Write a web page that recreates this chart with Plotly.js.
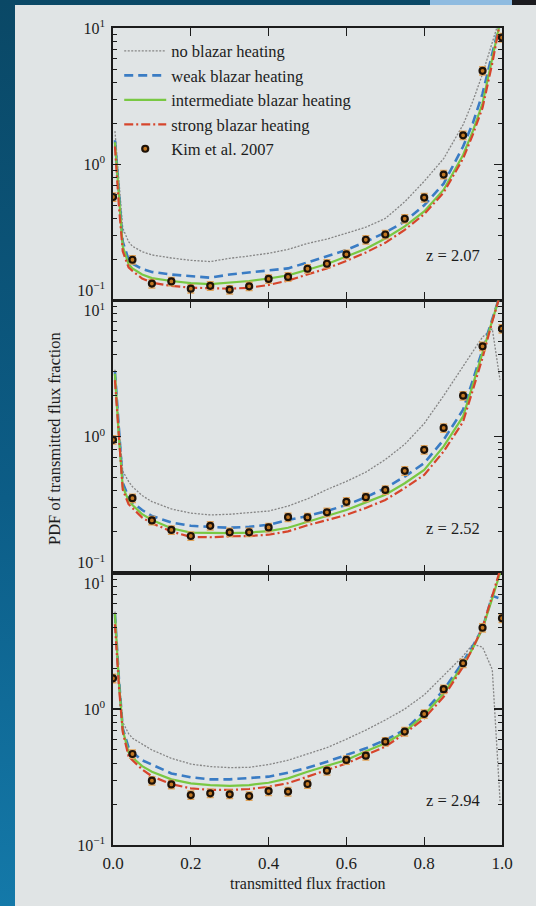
<!DOCTYPE html>
<html>
<head>
<meta charset="utf-8">
<script src="https://cdn.plot.ly/plotly-3.0.1.min.js"></script>
<style>
html,body{margin:0;padding:0;width:536px;height:906px;overflow:hidden;}
body{position:relative;background:linear-gradient(180deg,#0a4866 0%,#0c5d87 55%,#1479a9 100%);}
#strip1{position:absolute;left:430px;top:0;width:82px;height:5px;background:#8fbbe0;}
#strip2{position:absolute;left:512px;top:0;width:24px;height:5px;background:#1b1b1f;}
#chart{position:absolute;left:15px;top:5px;width:521px;height:901px;background:#e0e4e5;}
</style>
</head>
<body>
<div id="strip1"></div><div id="strip2"></div>
<div id="chart"></div>
<script>
// ---- data ----
const seriesNames = ["no blazar heating", "weak blazar heating", "intermediate blazar heating", "strong blazar heating", "Kim et al. 2007"];
const redshiftLabels = ["z = 2.07", "z = 2.52", "z = 2.94"];
const xLine = [0.005, 0.015, 0.025, 0.04, 0.05, 0.075, 0.1, 0.15, 0.2, 0.25, 0.3, 0.35, 0.4, 0.45, 0.5, 0.55, 0.6, 0.65, 0.7, 0.75, 0.8, 0.85, 0.9, 0.925, 0.95, 0.975, 0.995];
const xKim = [0, 0.05, 0.1, 0.15, 0.2, 0.25, 0.3, 0.35, 0.4, 0.45, 0.5, 0.55, 0.6, 0.65, 0.7, 0.75, 0.8, 0.85, 0.9, 0.95, 1.0];

// z = 2.07
const noHeat1 = [1.75, 0.75, 0.34, 0.27, 0.25, 0.228, 0.216, 0.205, 0.197, 0.193, 0.204, 0.212, 0.222, 0.237, 0.262, 0.282, 0.31, 0.345, 0.4, 0.53, 0.75, 1.1, 1.95, 2.9, 4.6, 8.0, 12];
const weak1 = [1.5, 0.6, 0.27, 0.2, 0.186, 0.17, 0.162, 0.155, 0.15, 0.147, 0.155, 0.16, 0.165, 0.172, 0.19, 0.21, 0.235, 0.27, 0.315, 0.38, 0.5, 0.72, 1.35, 2.0, 3.3, 6.5, 11];
const inter1 = [1.45, 0.55, 0.25, 0.185, 0.172, 0.155, 0.146, 0.139, 0.134, 0.132, 0.135, 0.139, 0.145, 0.153, 0.168, 0.185, 0.21, 0.24, 0.285, 0.35, 0.45, 0.65, 1.17, 1.75, 2.8, 5.8, 11];
const strong1 = [1.35, 0.5, 0.23, 0.175, 0.165, 0.145, 0.135, 0.128, 0.124, 0.123, 0.122, 0.124, 0.13, 0.14, 0.155, 0.172, 0.195, 0.225, 0.265, 0.33, 0.43, 0.62, 1.1, 1.65, 2.6, 5.5, 11];
const kim1 = [0.575, 0.199, 0.133, 0.138, 0.122, 0.128, 0.120, 0.127, 0.144, 0.149, 0.171, 0.186, 0.218, 0.279, 0.305, 0.398, 0.569, 0.84, 1.63, 4.85, 8.5];

// z = 2.52
const noHeat2 = [3.1, 1.2, 0.56, 0.47, 0.43, 0.37, 0.334, 0.295, 0.275, 0.267, 0.27, 0.276, 0.285, 0.31, 0.35, 0.41, 0.47, 0.55, 0.68, 0.88, 1.25, 2.0, 3.3, 4.3, 5.4, 6.2, 2.6];
const weak2 = [3.0, 1.1, 0.46, 0.36, 0.33, 0.29, 0.262, 0.235, 0.222, 0.218, 0.215, 0.218, 0.226, 0.245, 0.262, 0.285, 0.316, 0.36, 0.42, 0.51, 0.64, 0.95, 1.58, 2.6, 4.4, 7.5, 11];
const inter2 = [2.9, 1.0, 0.43, 0.34, 0.316, 0.27, 0.245, 0.213, 0.198, 0.196, 0.196, 0.198, 0.203, 0.215, 0.238, 0.262, 0.29, 0.33, 0.375, 0.456, 0.57, 0.85, 1.41, 2.4, 4.1, 7.2, 11];
const strong2 = [2.6, 0.95, 0.41, 0.32, 0.299, 0.255, 0.232, 0.202, 0.184, 0.183, 0.186, 0.187, 0.191, 0.202, 0.224, 0.245, 0.267, 0.3, 0.344, 0.42, 0.525, 0.78, 1.29, 2.2, 3.8, 7.0, 11];
const kim2 = [0.95, 0.354, 0.243, 0.207, 0.187, 0.222, 0.199, 0.199, 0.216, 0.257, 0.256, 0.279, 0.333, 0.360, 0.407, 0.562, 0.802, 1.16, 2.0, 4.61, 6.2];

// z = 2.94
const noHeat3 = [5.2, 1.8, 0.8, 0.66, 0.61, 0.55, 0.5, 0.434, 0.394, 0.377, 0.371, 0.372, 0.39, 0.42, 0.47, 0.52, 0.6, 0.7, 0.83, 1.0, 1.27, 1.75, 2.45, 3.0, 2.85, 1.95, 0.21];
const weak3 = [5.0, 1.7, 0.72, 0.52, 0.48, 0.42, 0.39, 0.336, 0.315, 0.304, 0.304, 0.31, 0.318, 0.34, 0.37, 0.41, 0.459, 0.514, 0.592, 0.701, 0.955, 1.38, 2.23, 2.9, 3.92, 6.8, 6.5];
const inter3 = [5.0, 1.6, 0.7, 0.48, 0.44, 0.38, 0.346, 0.304, 0.284, 0.276, 0.272, 0.276, 0.287, 0.309, 0.346, 0.38, 0.422, 0.49, 0.56, 0.68, 0.903, 1.30, 2.11, 2.8, 3.9, 6.5, 10];
const strong3 = [4.2, 1.5, 0.68, 0.45, 0.42, 0.36, 0.32, 0.28, 0.261, 0.254, 0.254, 0.258, 0.268, 0.285, 0.318, 0.355, 0.398, 0.46, 0.529, 0.66, 0.854, 1.23, 2.05, 2.8, 4.0, 6.8, 10.5];
const kim3 = [1.68, 0.467, 0.297, 0.279, 0.233, 0.240, 0.236, 0.229, 0.249, 0.247, 0.281, 0.352, 0.422, 0.454, 0.575, 0.682, 0.919, 1.40, 2.17, 3.96, 4.65];

const xTickVals = [0, 0.2, 0.4, 0.6, 0.8, 1.0];
const xTickText = ["0.0", "0.2", "0.4", "0.6", "0.8", "1.0"];
const yTickVals = [0.1, 1, 10];
const yTickTextTop = ["10<sup>−1</sup><br> ", "10<sup>0</sup>", "10<sup>1</sup>"];
const yTickTextMid = ["10<sup>−1</sup><br> ", "10<sup>0</sup>", " <br>10<sup>1</sup>"];
const yTickTextBot = ["10<sup>−1</sup>", "10<sup>0</sup>", " <br>10<sup>1</sup>"];

// ---- styling / build ----
const SERIF = "Liberation Serif, Times New Roman, serif";
const ink = "#1c1c1c";
const panels = [
  {ax: "", lines: [noHeat1, weak1, inter1, strong1], kim: kim1, label: redshiftLabels[0], dom: [0.6665, 1], tt: yTickTextTop, legend: true},
  {ax: "2", lines: [noHeat2, weak2, inter2, strong2], kim: kim2, label: redshiftLabels[1], dom: [0.3329, 0.6665], tt: yTickTextMid, legend: false},
  {ax: "3", lines: [noHeat3, weak3, inter3, strong3], kim: kim3, label: redshiftLabels[2], dom: [0, 0.3329], tt: yTickTextBot, legend: false}
];
const lineStyles = [
  {color: "#858585", width: 1.3, dash: "2px,1.5px"},
  {color: "#3a7cc4", width: 2.6, dash: "9px,5px"},
  {color: "#79c843", width: 2.2, dash: "solid"},
  {color: "#d6452c", width: 2.2, dash: "9px,3px,2px,3px"}
];

const traces = [];
const annotations = [];
const layout = {
  width: 521, height: 901,
  margin: {l: 98, r: 34, t: 23, b: 61},
  paper_bgcolor: "#e0e4e5", plot_bgcolor: "#e0e4e5",
  font: {family: SERIF, size: 16, color: ink},
  showlegend: true,
  legend: {x: 0.016, y: 0.993, xanchor: "left", yanchor: "top", bgcolor: "rgba(0,0,0,0)",
           font: {family: SERIF, size: 16.5, color: ink}, tracegroupgap: 0, itemwidth: 42},
  annotations: annotations
};

panels.forEach((p, i) => {
  const xa = "x" + p.ax, ya = "y" + p.ax;
  p.lines.forEach((ys, k) => {
    traces.push({
      type: "scatter", mode: "lines", x: xLine, y: ys, xaxis: xa, yaxis: ya,
      name: seriesNames[k], legendgroup: "g" + k, showlegend: p.legend,
      line: {color: lineStyles[k].color, width: lineStyles[k].width, dash: lineStyles[k].dash},
      hoverinfo: "skip"
    });
  });
  traces.push({
    type: "scatter", mode: "markers", x: xKim, y: p.kim, xaxis: xa, yaxis: ya,
    name: seriesNames[4], legendgroup: "g4", showlegend: p.legend,
    marker: {size: 6, color: "#c27722", line: {color: "#1e1208", width: 2.2}},
    error_y: {type: "percent", value: 7, color: "#e2a45a", thickness: 1.5, width: 3.5},
    hoverinfo: "skip"
  });
  layout["xaxis" + p.ax] = {
    domain: [0, 1], anchor: ya, range: [0, 1], tickmode: "array", tickvals: xTickVals, ticktext: xTickText,
    showticklabels: i === 2, ticks: "inside", ticklen: 8, tickwidth: 1.3, tickcolor: ink,
    mirror: "ticks", showline: true, linecolor: ink, linewidth: 1.6, showgrid: false, zeroline: false,
    ticklabelstandoff: 2,
    tickfont: {family: SERIF, size: 17, color: ink}
  };
  layout["yaxis" + p.ax] = {
    domain: p.dom, anchor: xa, type: "log", range: [-1, 1], tickmode: "array", tickvals: yTickVals, ticktext: p.tt,
    ticks: "inside", ticklen: 8, tickwidth: 1.3, tickcolor: ink,
    minor: {ticks: "inside", ticklen: 4, dtick: "D1", tickcolor: ink, tickwidth: 1, showgrid: false},
    mirror: "ticks", showline: true, linecolor: ink, linewidth: 1.6, showgrid: false, zeroline: false,
    ticklabelstandoff: 3,
    tickfont: {family: SERIF, size: 16, color: ink}
  };
  annotations.push({xref: xa, yref: ya, x: 0.874, y: -0.67, text: p.label, showarrow: false,
    font: {family: SERIF, size: 16.5, color: ink}});
});

annotations.push({xref: "paper", yref: "paper", x: 0.5, y: -0.047, text: "transmitted flux fraction",
  showarrow: false, xanchor: "center", yanchor: "middle", font: {family: SERIF, size: 16, color: ink}});
annotations.push({xref: "paper", yref: "paper", x: -0.149, y: 0.497, text: "PDF of transmitted flux fraction",
  textangle: -90, showarrow: false, xanchor: "center", yanchor: "middle", font: {family: SERIF, size: 16.5, color: ink}});

Plotly.newPlot("chart", traces, layout, {displayModeBar: false, staticPlot: true});
</script>
</body>
</html>
